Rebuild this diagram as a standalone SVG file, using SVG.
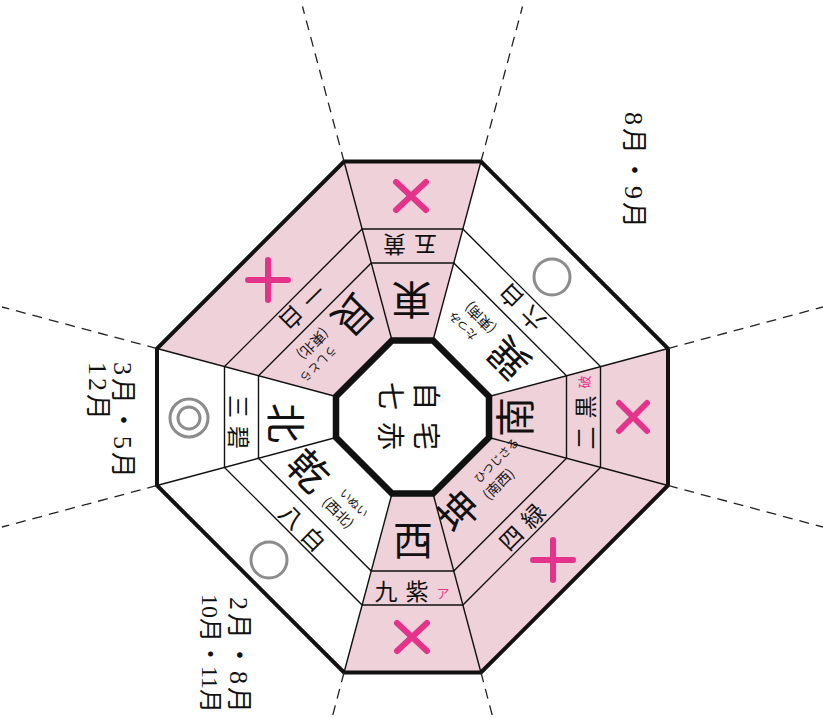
<svg xmlns="http://www.w3.org/2000/svg" width="823" height="718" viewBox="0 0 823 718">
<defs>
<style>
.pink{fill:#efd1d9;stroke:none}
.ring{fill:none;stroke:#111;stroke-width:1.4}
.bl{stroke:#111;stroke-width:1.4}
.outer{fill:none;stroke:#111;stroke-width:4;stroke-linejoin:miter}
.inner{fill:#fff;stroke:#111;stroke-width:6.5;stroke-linejoin:miter}
.dash{stroke:#222;stroke-width:1.3;stroke-dasharray:10 7;fill:none}
.mark{stroke:#e4338a;stroke-width:6;stroke-linecap:round;fill:none}
.circ{fill:none;stroke:#8c8c8c;stroke-width:3}
text{font-family:'Noto Sans CJK JP','Noto Sans CJK SC',sans-serif;fill:#111;dominant-baseline:central}
.dir{font-size:40px;text-anchor:middle}
.star{font-size:23px;letter-spacing:8px}
.ctr{font-size:28px;letter-spacing:12px}
.yomi{font-size:11.5px}
.par{font-size:14px}
.pk{fill:#e4338a;font-size:13px;text-anchor:middle}
.mon{font-family:'Liberation Serif','Noto Sans CJK JP',serif;font-size:26px;letter-spacing:3px}
.tight{font-size:24px;letter-spacing:0px}
</style>
</defs>
<rect width="823" height="718" fill="#fff"/>
<g id="fills">
<polygon class="pink" points="344.04,161.5 480.96,161.5 433,340.5 392,340.5"/>
<polygon class="pink" points="157,348.54 344.04,161.5 392,340.5 336,396.5"/>
<polygon class="pink" points="668,348.54 668,485.46 489,437.5 489,396.5"/>
<polygon class="pink" points="668,485.46 480.96,672.5 433,493.5 489,437.5"/>
<polygon class="pink" points="480.96,672.5 344.04,672.5 392,493.5 433,493.5"/>
</g>
<g id="grid">
<polygon class="ring" points="362.13,229 462.87,229 600.5,366.63 600.5,467.37 462.87,605 362.13,605 224.5,467.37 224.5,366.63"/>
<polygon class="ring" points="371.24,263 453.76,263 566.5,375.74 566.5,458.26 453.76,571 371.24,571 258.5,458.26 258.5,375.74"/>
<line class="bl" x1="392" y1="340.5" x2="344.04" y2="161.5"/>
<line class="bl" x1="433" y1="340.5" x2="480.96" y2="161.5"/>
<line class="bl" x1="489" y1="396.5" x2="668" y2="348.54"/>
<line class="bl" x1="489" y1="437.5" x2="668" y2="485.46"/>
<line class="bl" x1="433" y1="493.5" x2="480.96" y2="672.5"/>
<line class="bl" x1="392" y1="493.5" x2="344.04" y2="672.5"/>
<line class="bl" x1="336" y1="437.5" x2="157" y2="485.46"/>
<line class="bl" x1="336" y1="396.5" x2="157" y2="348.54"/>
<polygon class="outer" points="344.04,161.5 480.96,161.5 668,348.54 668,485.46 480.96,672.5 344.04,672.5 157,485.46 157,348.54"/>
</g>
<g id="connectors">
<line class="dash" x1="344.04" y1="161.5" x2="302.5" y2="6.5"/>
<line class="dash" x1="480.96" y1="161.5" x2="522.5" y2="6.5"/>
<line class="dash" x1="668" y1="348.54" x2="823" y2="307"/>
<line class="dash" x1="668" y1="485.46" x2="823" y2="527"/>
<line class="dash" x1="480.96" y1="672.5" x2="493" y2="718"/>
<line class="dash" x1="344.04" y1="672.5" x2="332" y2="718"/>
<line class="dash" x1="157" y1="485.46" x2="2" y2="527"/>
<line class="dash" x1="157" y1="348.54" x2="2" y2="307"/>
</g>
<g id="center">
<polygon class="inner" points="392,340.5 433,340.5 489,396.5 489,437.5 433,493.5 392,493.5 336,437.5 336,396.5"/>
<g transform="translate(410 416) rotate(90)">
<text class="ctr" x="-34" y="-18">自宅</text>
<text class="ctr" x="-34" y="18">七赤</text>
</g>
</g>
<g id="east">
<text class="dir" transform="translate(411.5 302) rotate(180)">東</text>
<text class="star" transform="translate(410 246) rotate(180)" x="-27">五黄</text>
<path class="mark" d="M396,182 L426,210 M426,182 L396,210"/>
</g>
<g id="southeast">
<g transform="translate(507 360) rotate(-135)">
<text class="dir">巽</text>
<text class="yomi" x="38" y="-8">たつみ</text>
<text class="par" x="30" y="10">(東南)</text>
</g>
<text class="star" transform="translate(521 308) rotate(-135)" x="-27">六白</text>
<circle class="circ" cx="552" cy="277" r="18"/>
</g>
<g id="south">
<text class="dir" transform="translate(513 417) rotate(-90)">南</text>
<text class="star" transform="translate(583.5 422.5) rotate(-90)" x="-27">二黒</text>
<text class="pk" transform="translate(583.5 382) rotate(-90)">破</text>
<path class="mark" d="M619,403 L647,431 M647,403 L619,431"/>
</g>
<g id="southwest">
<g transform="translate(457 510) rotate(-45)">
<text class="dir">坤</text>
<text class="yomi" x="34" y="-8">ひつじさる</text>
<text class="par" x="29" y="10">(南西)</text>
</g>
<text class="star" transform="translate(521 526) rotate(-45)" x="-27">四緑</text>
<path class="mark" d="M533,560 L573,560 M553,540 L553,580"/>
</g>
<g id="west">
<text class="dir" transform="translate(413 538)">西</text>
<text class="star" transform="translate(401.5 590)" x="-27">九紫</text>
<text class="pk" transform="translate(443 592)">ア</text>
<path class="mark" d="M397,623 L427,651 M427,623 L397,651"/>
</g>
<g id="northwest">
<g transform="translate(310 469) rotate(45)">
<text class="dir">乾</text>
<text class="yomi" x="38" y="-8">いぬい</text>
<text class="par" x="32" y="10">(西北)</text>
</g>
<text class="star" transform="translate(303.5 527) rotate(45)" x="-27">八白</text>
<circle class="circ" cx="269" cy="560" r="18"/>
</g>
<g id="north">
<text class="dir" transform="translate(288 423) rotate(90)">北</text>
<text class="star" transform="translate(240 422) rotate(90)" x="-27">三碧</text>
<circle class="circ" cx="189" cy="418" r="19"/>
<circle class="circ" cx="189" cy="418" r="11"/>
</g>
<g id="northeast">
<g transform="translate(355 317) rotate(135)">
<text class="dir">艮</text>
<text class="yomi" x="36" y="-8">うしとら</text>
<text class="par" x="30" y="10">(東北)</text>
</g>
<text class="star" transform="translate(303.5 308) rotate(135)" x="-27">一白</text>
<path class="mark" d="M248,280 L288,280 M268,260 L268,300"/>
</g>
<g id="months">
<text class="mon" transform="translate(633 112) rotate(90)">8月・9月</text>
<text class="mon" transform="translate(123 362) rotate(90)"><tspan x="0" y="0">3月・5月</tspan><tspan x="0" y="25">12月</tspan></text>
<text class="mon" transform="translate(238 597) rotate(90)">2月・8月</text>
<text class="mon tight" transform="translate(210 594) rotate(90)">10月・11月</text>
</g>
</svg>
